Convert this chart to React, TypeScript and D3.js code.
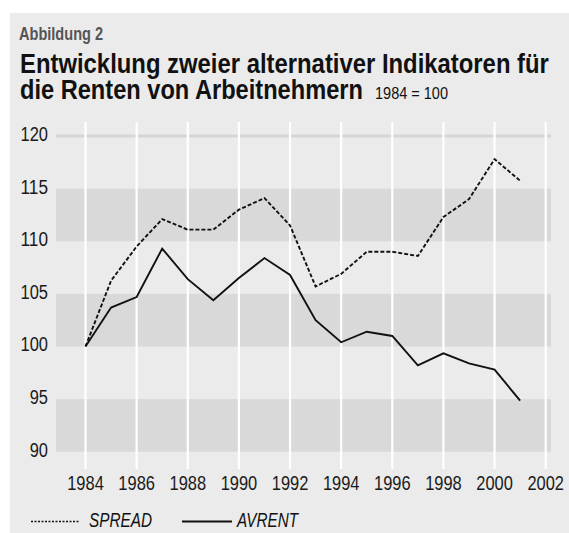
import React, { useLayoutEffect, useRef, useState } from "react";
import * as d3 from "d3";

const years = [1984, 1985, 1986, 1987, 1988, 1989, 1990, 1991, 1992, 1993, 1994, 1995, 1996, 1997, 1998, 1999, 2000, 2001];
const spread = [100, 106.25, 109.5, 112.1, 111.1, 111.1, 113.0, 114.1, 111.5, 105.7, 106.9, 109.0, 109.0, 108.6, 112.3, 114.0, 117.8, 115.75];
const avrent = [100, 103.7, 104.7, 109.3, 106.4, 104.4, 106.5, 108.4, 106.8, 102.5, 100.4, 101.4, 101.0, 98.2, 99.35, 98.4, 97.8, 94.85];
const yTicks = [90, 95, 100, 105, 110, 115, 120];
const xTicks = [1984, 1986, 1988, 1990, 1992, 1994, 1996, 1998, 2000, 2002];
const darkBands = [[110, 115], [100, 105], [90, 95]];

const FONT = "'Liberation Sans', Arial, sans-serif";
const DIGIT_W = 9.15;

type FitProps = {
  x: number; y: number; width: number; anchor?: "start" | "middle" | "end";
  fontSize: number; fontWeight?: string; fontStyle?: string; fill?: string; children: string;
};

function FitText({ x, y, width, anchor = "start", fontSize, fontWeight, fontStyle, fill = "#111", children }: FitProps) {
  const ref = useRef<SVGTextElement>(null);
  const [s, setS] = useState(0.82);
  useLayoutEffect(() => {
    if (ref.current) {
      const n = ref.current.getComputedTextLength();
      if (n > 0) setS(width / n);
    }
  }, [width, children, fontSize]);
  return (
    <text ref={ref} transform={`translate(${x},${y}) scale(${s},1)`} x={0} y={0} textAnchor={anchor}
      fontSize={fontSize} fontWeight={fontWeight} fontStyle={fontStyle} fill={fill}>{children}</text>
  );
}

export default function App() {
  const W = 569, H = 533;
  const x = d3.scaleLinear().domain([1984, 2002]).range([85.5, 545.7]);
  const y = d3.scaleLinear().domain([90, 120]).range([451.7, 136]);
  const plotL = 56, plotR = 551;
  const line = d3.line<number>().x((_, i) => x(years[i])).y((d) => y(d));

  return (
    <svg width={W} height={H} style={{ position: "absolute", left: 0, top: 0, background: "#fff" }} fontFamily={FONT}>
      <rect x={10} y={13} width={W - 10} height={H - 13} fill="#ebebeb" />
      {darkBands.map(([a, b], i) => (
        <rect key={i} x={plotL} width={plotR - plotL} y={y(b)} height={y(a) - y(b)} fill="#d9d9d9" />
      ))}
      <line x1={plotL} x2={plotR} y1={y(120)} y2={y(120)} stroke="#d6d6d6" strokeWidth={3} />
      {xTicks.map((t) => (
        <line key={t} x1={x(t)} x2={x(t)} y1={122} y2={469} stroke="#ffffff" strokeWidth={2.2} />
      ))}
      {yTicks.map((t) => (
        <FitText key={t} x={48} y={y(t) + 5} anchor="end" fontSize={19.5} fill="#1a1a1a"
          width={String(t).length * DIGIT_W}>{String(t)}</FitText>
      ))}
      {xTicks.map((t) => (
        <FitText key={t} x={x(t)} y={490} anchor="middle" fontSize={19.5} fill="#1a1a1a"
          width={4 * DIGIT_W}>{String(t)}</FitText>
      ))}
      <path d={line(spread) || ""} fill="none" stroke="#111" strokeWidth={1.9} strokeDasharray="4,2" />
      <path d={line(avrent) || ""} fill="none" stroke="#111" strokeWidth={1.9} />
      <FitText x={19} y={40} fontSize={18} fontWeight="bold" fill="#555" width={84}>Abbildung 2</FitText>
      <FitText x={20} y={73} fontSize={28} fontWeight="bold" width={529}>Entwicklung zweier alternativer Indikatoren für</FitText>
      <FitText x={20} y={99} fontSize={28} fontWeight="bold" width={343}>die Renten von Arbeitnehmern</FitText>
      <FitText x={375} y={99} fontSize={16} width={73}>1984 = 100</FitText>
      <line x1={31} x2={80} y1={521.5} y2={521.5} stroke="#111" strokeWidth={1.5} strokeDasharray="2,1.5" />
      <FitText x={89} y={527} fontSize={19.5} fontStyle="italic" width={63}>SPREAD</FitText>
      <line x1={182} x2={232} y1={521.5} y2={521.5} stroke="#111" strokeWidth={2} />
      <FitText x={237} y={527} fontSize={19.5} fontStyle="italic" width={61}>AVRENT</FitText>
    </svg>
  );
}
